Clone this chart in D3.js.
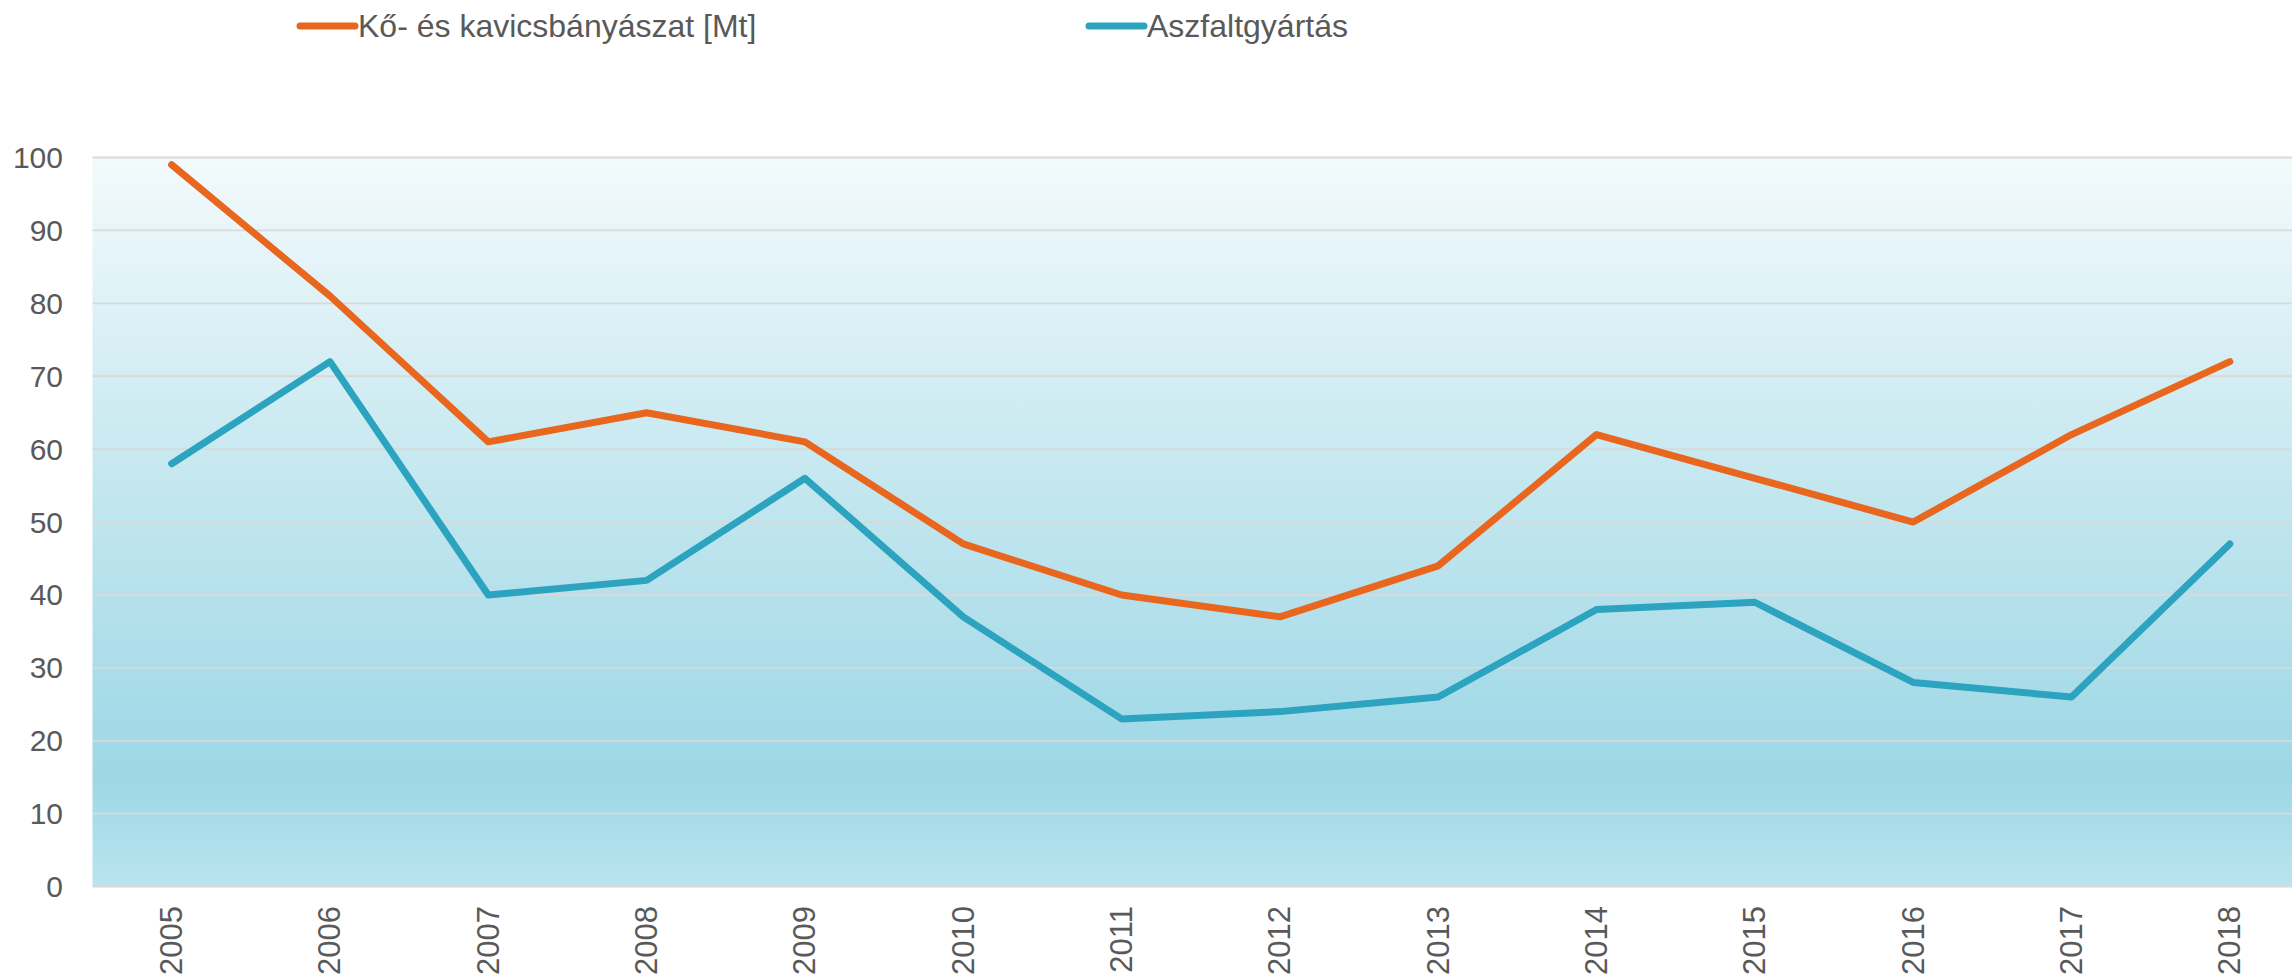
<!DOCTYPE html>
<html>
<head>
<meta charset="utf-8">
<script src="https://cdn.jsdelivr.net/npm/d3@7"></script>
<style>
  html, body { margin: 0; padding: 0; background: #ffffff; overflow: hidden; }
  svg { display: block; font-family: "Liberation Sans", Arial, sans-serif; }
</style>
</head>
<body>
<svg id="chart" width="2292" height="978"></svg>
<script>
// Years on the category axis
const years = ["2005","2006","2007","2008","2009","2010","2011","2012","2013","2014","2015","2016","2017","2018"];

// Series values
const koKavics = [99, 81, 61, 65, 61, 47, 40, 37, 44, 62, 56, 50, 62, 72];
const aszfalt  = [58, 72, 40, 42, 56, 37, 23, 24, 26, 38, 39, 28, 26, 47];

const seriesNames = ["Kő- és kavicsbányászat [Mt]", "Aszfaltgyártás"];
const seriesColors = ["#e8661e", "#2ca3bf"];

// Value axis ticks
const yTicks = [0, 10, 20, 30, 40, 50, 60, 70, 80, 90, 100];

const svg = d3.select("#chart");
const W = 2292, H = 978;
const plot = { left: 92.5, right: 2309, top: 157.5, bottom: 886.6 };

const x = d3.scalePoint().domain(years).range([plot.left, plot.right]).padding(0.5);
const y = d3.scaleLinear().domain([0, 100]).range([plot.bottom, plot.top]);

// Background gradient of the plot area
const defs = svg.append("defs");
const grad = defs.append("linearGradient")
  .attr("id", "plotBg").attr("x1", 0).attr("y1", 0).attr("x2", 0).attr("y2", 1);
grad.append("stop").attr("offset", "0%").attr("stop-color", "#f3fafc");
grad.append("stop").attr("offset", "45%").attr("stop-color", "#c4e7ef");
grad.append("stop").attr("offset", "85%").attr("stop-color", "#9dd7e6");
grad.append("stop").attr("offset", "100%").attr("stop-color", "#bae4ee");

svg.append("rect")
  .attr("x", plot.left).attr("y", plot.top)
  .attr("width", plot.right - plot.left).attr("height", plot.bottom - plot.top)
  .attr("fill", "url(#plotBg)");

// Horizontal gridlines
svg.append("g").selectAll("line").data(yTicks).join("line")
  .attr("x1", plot.left).attr("x2", plot.right)
  .attr("y1", d => y(d)).attr("y2", d => y(d))
  .attr("stroke", "#d9d9d9").attr("stroke-width", 1.8);

// Value axis labels
svg.append("g").selectAll("text").data(yTicks).join("text")
  .attr("x", 63).attr("y", d => y(d))
  .attr("text-anchor", "end").attr("dominant-baseline", "central")
  .attr("font-size", 30).attr("fill", "#595959")
  .text(d => d);

// Category axis labels, rotated
svg.append("g").selectAll("text").data(years).join("text")
  .attr("transform", d => `translate(${x(d)},906) rotate(-90)`)
  .attr("text-anchor", "end").attr("dominant-baseline", "central")
  .attr("font-size", 31).attr("fill", "#595959")
  .text(d => d);

// Lines
const line = d3.line().x((d, i) => x(years[i])).y(d => y(d));
[koKavics, aszfalt].forEach((vals, k) => {
  svg.append("path")
    .datum(vals)
    .attr("d", line)
    .attr("fill", "none")
    .attr("stroke", seriesColors[k])
    .attr("stroke-width", 7)
    .attr("stroke-linejoin", "round")
    .attr("stroke-linecap", "round");
});

// Legend
const legendX = [300, 1089];
const lg = svg.append("g");
seriesNames.forEach((name, k) => {
  lg.append("line")
    .attr("x1", legendX[k]).attr("x2", legendX[k] + 55)
    .attr("y1", 26).attr("y2", 26)
    .attr("stroke", seriesColors[k]).attr("stroke-width", 7)
    .attr("stroke-linecap", "round");
  lg.append("text")
    .attr("x", legendX[k] + 58).attr("y", 26)
    .attr("dominant-baseline", "central")
    .attr("font-size", 32).attr("fill", "#595959")
    .text(name);
});
</script>
</body>
</html>
